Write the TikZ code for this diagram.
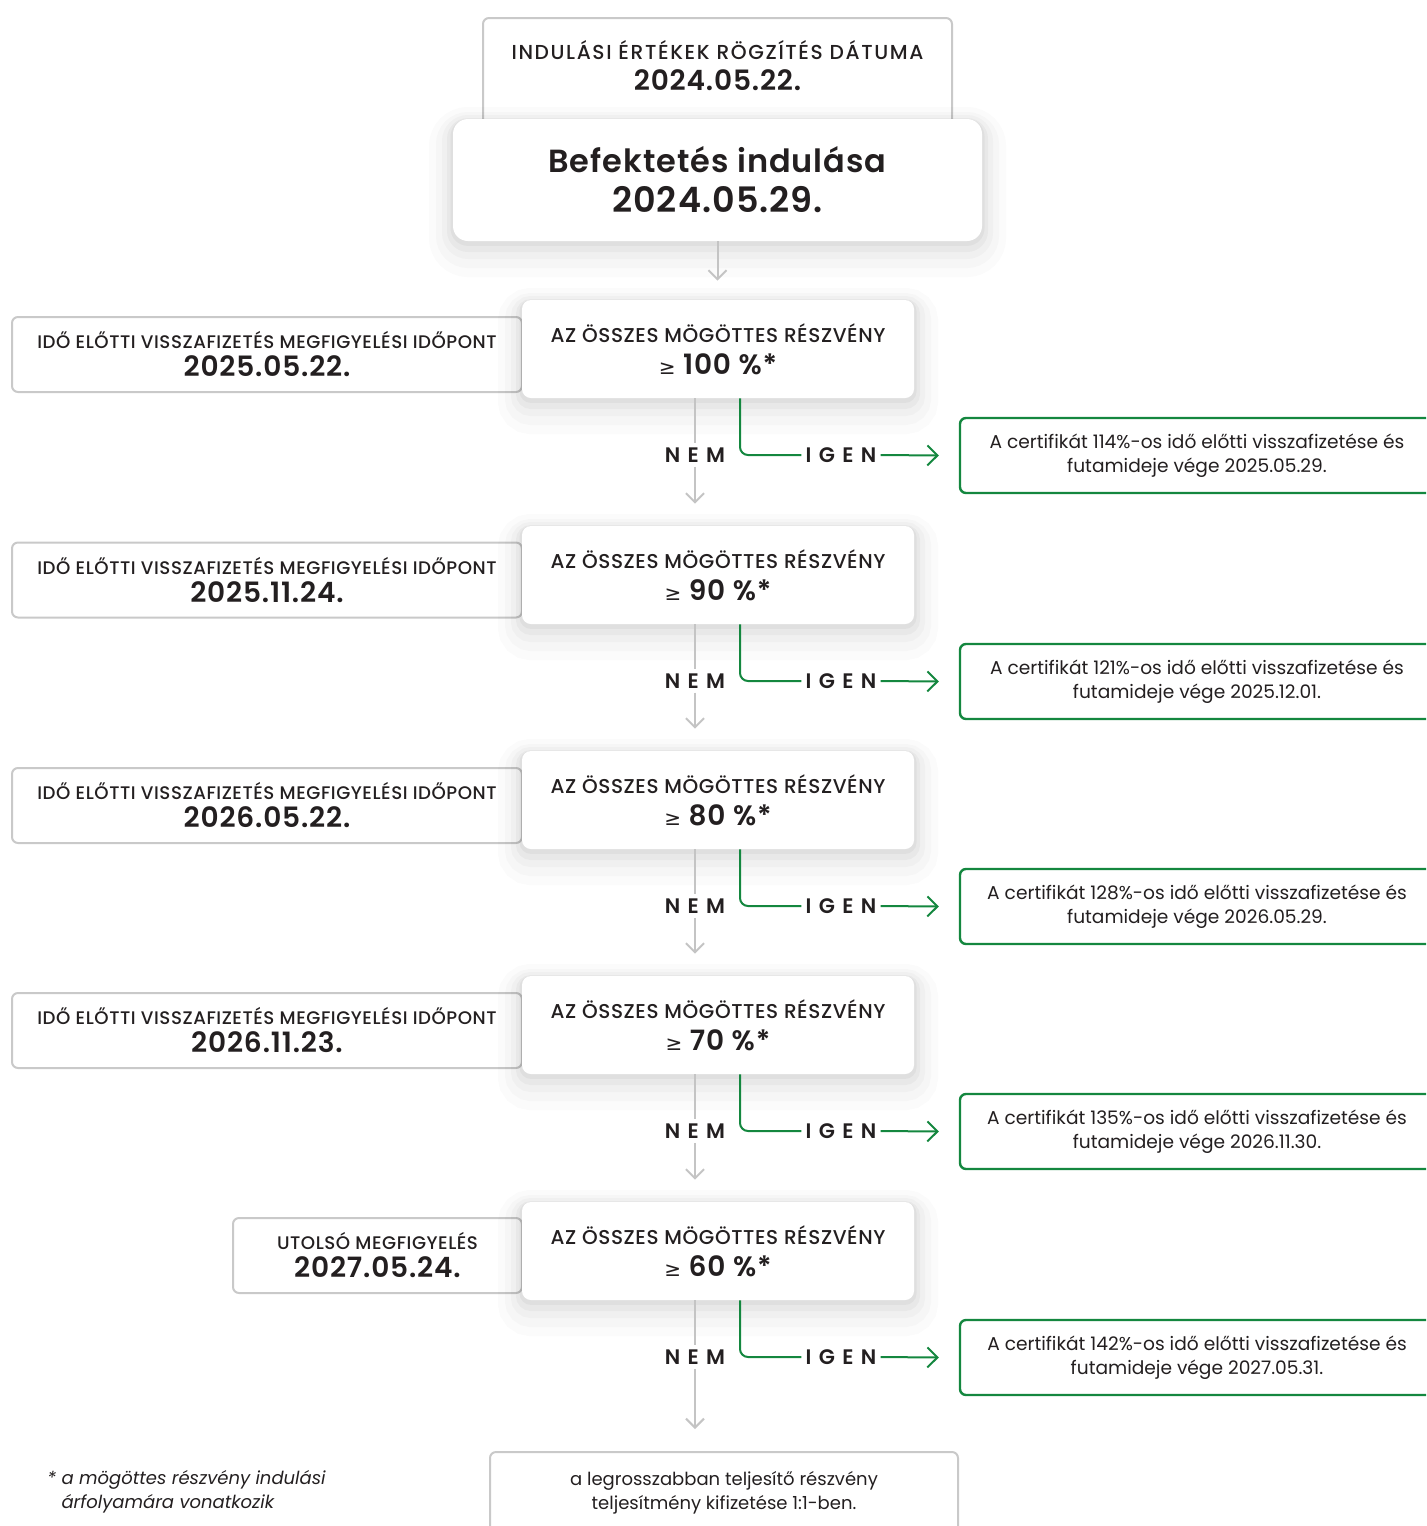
\documentclass[tikz,border=0pt]{standalone}
\usepackage{fontspec}
\setmainfont{Poppins}
\IfFontExistsTF{Poppins SemiBold}{\def\sbname{Poppins SemiBold}}{\def\sbname{Poppins Bold}}
\IfFontExistsTF{Poppins Medium}{\def\mdname{Poppins Medium}}{\def\mdname{Poppins}}
\newfontfamily\symf{DejaVu Sans}
\newfontfamily\capsf{\mdname}[LetterSpace=8]
\newfontfamily\decf{\mdname}[LetterSpace=3]
\newfontfamily\leftf{\mdname}[LetterSpace=3]
\newfontfamily\datef{\sbname}[LetterSpace=3]
\newfontfamily\titlef{\sbname}[LetterSpace=3]
\newfontfamily\trackf{\sbname}[LetterSpace=35]
\usetikzlibrary{arrows.meta,shadows}
\definecolor{ink}{HTML}{231F20}
\definecolor{boxgray}{HTML}{C9C9C9}
\definecolor{linegray}{HTML}{C4C4C4}
\definecolor{igreen}{HTML}{14873F}
\begin{document}
\begin{tikzpicture}[x=0.5pt,y=-0.5pt,
  every node/.style={text=ink},
  softshadow/.style={
    general shadow={draw=black,opacity=0.014,line width=24pt,shadow yshift=-6pt},
    general shadow={draw=black,opacity=0.018,line width=17pt,shadow yshift=-5pt},
    general shadow={draw=black,opacity=0.022,line width=11pt,shadow yshift=-3.5pt},
    general shadow={draw=black,opacity=0.03,line width=6pt,shadow yshift=-2.5pt},
    general shadow={draw=black,opacity=0.04,line width=2.5pt,shadow yshift=-1.2pt}},
  greybox/.style={draw=boxgray,line width=1pt,rounded corners=3pt,fill=white,align=center,inner sep=0pt},
  mainbox/.style={fill=white,rounded corners=7.5pt,align=center,inner sep=0pt,softshadow},
  decbox/.style={fill=white,rounded corners=4.5pt,align=center,inner sep=0pt,softshadow},
  gbox/.style={draw=igreen,line width=1.2pt,rounded corners=3pt,fill=white,align=center,inner sep=0pt},
  lab/.style={font=\trackf\fontsize{10.5}{12}\selectfont,inner sep=2pt},
  gline/.style={draw=linegray,line width=1pt},
  grline/.style={draw=igreen,line width=1pt},
  gtip/.style={-{Straight Barb[length=4.5pt,width=9pt]}},
  grtip/.style={-{Straight Barb[length=5pt,width=10pt]}}]
\useasboundingbox (0,0) rectangle (1426,1526);
\clip (0,0) rectangle (1426,1526);

% top: fixing date + start
\node[greybox,minimum width=234.5pt,minimum height=54pt,anchor=north] (fixbox) at (717.5,17) {};
\node[align=center,font=\fontsize{10.1}{15.5}\selectfont] (fixlbl) at (717.5,65.5)
  {{\capsf INDULÁSI ÉRTÉKEK RÖGZÍTÉS DÁTUMA}\\{\datef\fontsize{14}{15.5}\selectfont 2024.05.22.}};
\node[mainbox,minimum width=264.5pt,minimum height=61pt,font=\titlef\fontsize{16}{20}\selectfont] (start) at (717.5,180)
  {Befektetés indulása\\{\fontsize{17.5}{20}\selectfont 2024.05.29.}};

% left observation boxes
\foreach \cy/\w/\cx/\head/\dt in {
  354.5/255/267/IDŐ ELŐTTI VISSZAFIZETÉS MEGFIGYELÉSI IDŐPONT/2025.05.22.,
  580/255/267/IDŐ ELŐTTI VISSZAFIZETÉS MEGFIGYELÉSI IDŐPONT/2025.11.24.,
  805.5/255/267/IDŐ ELŐTTI VISSZAFIZETÉS MEGFIGYELÉSI IDŐPONT/2026.05.22.,
  1030.5/255/267/IDŐ ELŐTTI VISSZAFIZETÉS MEGFIGYELÉSI IDŐPONT/2026.11.23.,
  1255.5/144.5/377.5/UTOLSÓ MEGFIGYELÉS/2027.05.24.}{
  \node[greybox,minimum width=\w pt,minimum height=37.5pt,font=\fontsize{9.1}{13}\selectfont] at (\cx,\cy)
    {\raisebox{1pt}{\leftf \head}\\{\datef\fontsize{14}{13}\selectfont \dt}};
}

% bottom payout box
\node[greybox,minimum width=234pt,minimum height=41pt,font=\fontsize{9}{12}\selectfont,alias=dec6] (payout) at (724,1493)
  {a legrosszabban teljesítő részvény\\teljesítmény kifizetése 1:1-ben.};

% decision rows
\foreach \i/\cy/\pct/\gp/\gd in {
  1/350/100/114/2025.05.29.,
  2/576/90/121/2025.12.01.,
  3/801/80/128/2026.05.29.,
  4/1026/70/135/2026.11.30.,
  5/1252/60/142/2027.05.31.}{
  \node[decbox,minimum width=196pt,minimum height=49pt,font=\fontsize{10}{16}\selectfont] (dec\i) at (718,{\cy-1})
    {{\decf AZ ÖSSZES MÖGÖTTES RÉSZVÉNY}\\{\datef\fontsize{14}{16}\selectfont{\symf\fontsize{10}{10}\selectfont ≥} \pct\ \%*}};
  \node[lab] (nem\i) at (695,{\cy+105}) {NEM};
  \node[lab] (igen\i) at (841,{\cy+105}) {IGEN};
  \node[gbox,minimum width=237pt,minimum height=37.5pt,font=\fontsize{9.3}{12}\selectfont] (gres\i) at (1197,{\cy+105.5})
    {A certifikát \gp\%-os idő előtti visszafizetése és\\futamideje vége \gd};
  \draw[grline,rounded corners=4pt] ([xshift=11pt]dec\i.south) |- (igen\i.west);
  \draw[grline,grtip] (igen\i.east) -- ([xshift=-10pt]gres\i.west);
  \draw[gline] ([xshift=-11.5pt]dec\i.south) -- (nem\i.north);
}
\foreach \i/\j in {1/2,2/3,3/4,4/5,5/6}{
  \draw[gline,gtip,shorten >=11pt] (nem\i.south) -- (nem\i.south |- dec\j.north);
}
\draw[gline,gtip,shorten >=9.5pt] (start.south) -- (start.south |- dec1.north);

% footnote
\node[anchor=north west,align=left,font=\itshape\fontsize{9}{12}\selectfont,inner sep=0pt] (note) at (47,1470)
  {* a mögöttes részvény indulási\\\hphantom{* }árfolyamára vonatkozik};
\end{tikzpicture}
\end{document}
